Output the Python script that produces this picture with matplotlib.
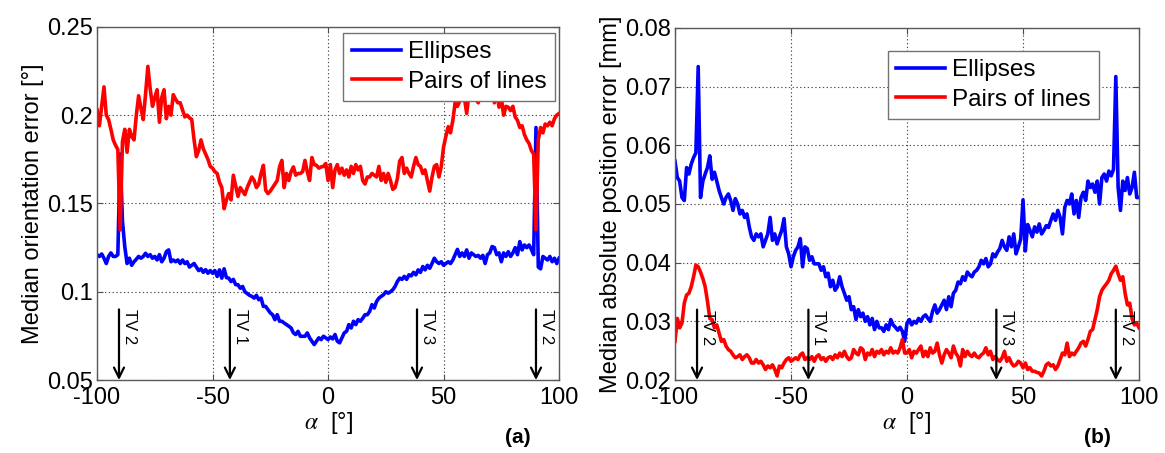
import numpy as np
import matplotlib
matplotlib.use('Agg')
import matplotlib.pyplot as plt

plt.rcParams['font.family'] = ['Liberation Sans', 'DejaVu Sans']
plt.rcParams['mathtext.fontset'] = 'stix'
plt.rcParams['axes.unicode_minus'] = False

# angle grid (degrees), one sample per degree
alpha = np.arange(-100, 101)

# (a) median orientation error [deg]
orient_ellipses = [
    .121, .120, .1214, .119, .116, .120, .122, .120, .120, .121,
    .178, .140, .1256, .116, .119, .115, .117, .1184, .120, .119,
    .120, .1218, .120, .121, .119, .120, .118, .121, .117, .119,
    .1227, .1237, .117, .118, .117, .118, .116, .118, .116, .117,
    .114, .115, .116, .114, .112, .113, .111, .1125, .1105, .112,
    .1105, .112, .1087, .1124, .1077, .113, .108, .1077, .1058, .107,
    .104, .104, .102, .103, .100, .099, .098, .0974, .0964, .098,
    .0955, .0964, .0917, .0917, .0898, .088, .087, .0842, .087, .0833,
    .0833, .0823, .0814, .0805, .0795, .0767, .0758, .0776, .0748, .0748,
    .0748, .0767, .0739, .072, .0701, .072, .0739, .0729, .0748, .0739,
    .0729, .0744, .0733, .0758, .072, .0711, .0739, .0767, .0776, .0814,
    .0795, .0833, .0814, .0842, .0833, .085, .087, .087, .0889, .0927,
    .0908, .0945, .0964, .0974, .0983, .100, .0992, .100, .1011, .103,
    .1058, .1077, .107, .1087, .107, .1096, .109, .111, .1096, .1124,
    .111, .1143, .1124, .115, .1133, .116, .119, .117, .116, .117,
    .115, .116, .117, .116, .118, .121, .124, .120, .122, .120,
    .1237, .119, .122, .121, .120, .1206, .119, .1206, .116, .121,
    .122, .1256, .125, .121, .122, .117, .122, .120, .1227, .120,
    .122, .125, .121, .1284, .1237, .1265, .125, .1265, .124, .121,
    .193, .114, .113, .120, .119, .118, .120, .117, .119, .116, .119,
]
orient_lines = [
    .203, .194, .205, .216, .200, .1975, .192, .186, .183, .1805,
    .135, .185, .192, .179, .192, .188, .186, .200, .211, .204,
    .1975, .212, .2276, .215, .205, .210, .2144, .196, .210, .2144,
    .198, .205, .200, .2116, .209, .207, .207, .203, .199, .200,
    .1985, .1975, .186, .1765, .180, .186, .181, .178, .175, .171,
    .170, .168, .167, .162, .159, .147, .152, .1556, .152, .166,
    .160, .154, .159, .157, .155, .159, .162, .165, .163, .159,
    .161, .167, .1716, .1575, .1556, .157, .159, .161, .163, .1707,
    .1744, .159, .167, .163, .168, .1707, .166, .167, .167, .168,
    .1744, .168, .163, .176, .172, .1716, .170, .1707, .171, .1726,
    .163, .172, .159, .169, .172, .167, .170, .166, .169, .165,
    .171, .167, .172, .169, .171, .163, .161, .165, .165, .167,
    .166, .165, .171, .163, .167, .162, .167, .163, .158, .159,
    .164, .174, .176, .167, .170, .167, .165, .171, .176, .172,
    .171, .167, .169, .163, .157, .165, .171, .172, .165, .171,
    .182, .188, .1935, .190, .197, .207, .205, .208, .212, .210,
    .201, .212, .210, .214, .209, .207, .212, .215, .211, .216,
    .213, .217, .207, .214, .2045, .210, .200, .205, .2045, .2026,
    .205, .199, .197, .193, .194, .189, .186, .184, .180, .178,
    .135, .186, .193, .190, .195, .194, .196, .194, .198, .200, .201,
]

# (b) median absolute position error [mm]
pos_ellipses = [
    .0573, .0545, .0539, .0511, .0506, .0562, .0551, .0568, .0579, .0587,
    .0734, .0511, .0539, .0551, .0562, .0582, .0542, .0554, .0539, .0523,
    .0511, .050, .0511, .0517, .0506, .0489, .0509, .050, .0483, .0489,
    .0477, .0483, .0461, .0444, .0438, .0449, .0444, .0449, .0427, .0438,
    .0449, .0477, .0438, .0449, .0432, .0444, .0455, .0475, .0427, .0415,
    .0393, .041, .0421, .0427, .0441, .0393, .0427, .0424, .0404, .041,
    .0398, .0398, .0398, .0387, .0393, .0376, .0382, .0359, .037, .0353,
    .0359, .0376, .0359, .0348, .0336, .0342, .032, .0325, .0303, .032,
    .0308, .0314, .030, .0308, .0294, .0305, .0286, .030, .0289, .0289,
    .0283, .0294, .0286, .0303, .0294, .029, .0285, .029, .0283, .0266,
    .0297, .0303, .0294, .030, .0297, .0305, .030, .0308, .0311, .0305,
    .030, .0317, .0328, .0314, .032, .0328, .0336, .032, .0342, .0325,
    .0348, .0353, .0367, .0364, .0376, .037, .0384, .0379, .0376, .0384,
    .0387, .0393, .0404, .0398, .0407, .0393, .0398, .0415, .041, .0418,
    .0424, .0438, .0427, .0421, .0444, .0427, .0449, .0415, .0427, .044,
    .0507, .042, .0465, .0455, .0444, .0461, .0452, .0466, .0449, .0455,
    .0463, .046, .0472, .0483, .0472, .0489, .0477, .0449, .0494, .0506,
    .050, .0517, .0483, .0506, .0477, .0511, .052, .0506, .0539, .0528,
    .0534, .052, .0539, .050, .0545, .0551, .0539, .0556, .0548, .0559,
    .0717, .0528, .0489, .0539, .0523, .0545, .0517, .0528, .0554, .0511, .0511,
]
pos_lines = [
    .0266, .0305, .0289, .0297, .0331, .0345, .0348, .0359, .0376, .0396,
    .0393, .0384, .0373, .0359, .0334, .0305, .0303, .0289, .0294, .028,
    .0266, .0269, .0258, .0252, .0249, .0243, .0238, .024, .0243, .0235,
    .024, .0243, .0238, .0229, .0229, .0235, .0229, .0232, .0226, .0218,
    .0224, .0221, .0226, .0218, .0207, .0224, .0221, .0229, .0235, .0238,
    .0232, .0235, .0238, .0235, .0243, .0246, .0235, .0238, .0235, .024,
    .0232, .024, .0243, .0235, .0238, .0232, .0238, .024, .0235, .0243,
    .0238, .0246, .024, .0249, .024, .0235, .0238, .0252, .0246, .0243,
    .0255, .0252, .0235, .0246, .0243, .0252, .024, .0249, .0246, .0252,
    .0243, .0249, .0246, .0255, .0246, .0249, .0246, .0255, .0269, .0246,
    .0246, .0252, .0238, .0249, .0246, .0252, .0258, .024, .0249, .024,
    .0255, .0246, .0249, .0263, .0243, .0229, .0243, .0252, .0246, .0238,
    .0258, .0246, .024, .0224, .0252, .024, .0249, .0243, .024, .0246,
    .024, .0238, .0243, .0246, .0255, .0243, .0249, .0235, .024, .0235,
    .0232, .0238, .0249, .0232, .0238, .0229, .0224, .0226, .0232, .0229,
    .0221, .0229, .0218, .0221, .0215, .0215, .0213, .0212, .0207, .0215,
    .0226, .0229, .0224, .0226, .0218, .0224, .0235, .0246, .0243, .0263,
    .024, .0246, .0243, .0249, .0255, .0263, .0266, .0258, .0269, .0283,
    .0286, .0303, .032, .0342, .0353, .0359, .0364, .037, .0381, .0387,
    .0394, .0381, .037, .0376, .0348, .0328, .0331, .0305, .0294, .0297, .0289,
]

# test view positions marked with arrows
tv_labels = ['TV 2', 'TV 1', 'TV 3', 'TV 2']
tv_alpha = [-90.5, -42.5, 38.5, 90]

legend_names = ['Ellipses', 'Pairs of lines']

fig = plt.figure(figsize=(11.65, 4.53), dpi=100)
ax1 = fig.add_axes([0.0833, 0.161, 0.3966, 0.7797])
ax2 = fig.add_axes([0.5794, 0.161, 0.3983, 0.7775])

panels = [
    (ax1, orient_ellipses, orient_lines, (0.05, 0.25), [0.05, 0.1, 0.15, 0.2, 0.25],
     'Median orientation error [°]', 0.09, (0.991, 0.983), '(a)', 0.4446),
    (ax2, pos_ellipses, pos_lines, (0.02, 0.08), [0.02, 0.03, 0.04, 0.05, 0.06, 0.07, 0.08],
     'Median absolute position error [mm]', 0.032, (0.914, 0.935), '(b)', 0.9416),
]

for ax, ell, lin, ylim, yticks, ylab, tv_top, leg_pos, tag, tag_x in panels:
    ax.plot(alpha, ell, color=(0, 0, 1), lw=2.6, label=legend_names[0])
    ax.plot(alpha, lin, color=(1, 0, 0), lw=2.6, label=legend_names[1])
    ax.set_xlim(-100, 100)
    ax.set_ylim(*ylim)
    ax.set_xticks([-100, -50, 0, 50, 100])
    ax.set_yticks(yticks)
    ax.set_yticklabels(['%g' % t for t in yticks])
    ax.grid(True, color='0.3', linestyle=(0, (1.2, 2.2)), lw=0.8)
    ax.tick_params(direction='in', length=4, top=True, right=True,
                   labelsize=17, pad=3, color='0.3')
    ax.tick_params(axis='x', pad=5)
    for s in ax.spines.values():
        s.set_color('0.35')
        s.set_linewidth(1.0)
    ax.set_ylabel(ylab, fontsize=17, labelpad=2)
    ax.set_xlabel(r'$\alpha$  [°]', fontsize=17, labelpad=1)

    for name, a in zip(tv_labels, tv_alpha):
        ax.annotate('', xy=(a, ylim[0]), xytext=(a, tv_top),
                    arrowprops=dict(arrowstyle='->', lw=1.6, color='k',
                                    mutation_scale=18, shrinkA=0, shrinkB=0))
        ax.annotate(name, xy=(a, tv_top), xytext=(2, 0), textcoords='offset points',
                    rotation=270, ha='left', va='top', fontsize=12)

    leg = ax.legend(loc='upper right', bbox_to_anchor=leg_pos, fontsize=17.5,
                    fancybox=False, framealpha=1, edgecolor='0.45',
                    handlelength=2.0, handletextpad=0.3, borderpad=0.35,
                    labelspacing=0.3, borderaxespad=0)
    leg.get_frame().set_linewidth(1.0)

    fig.text(tag_x, 0.035, tag, fontsize=15, fontweight='bold', ha='center', va='center')

fig.savefig('out.png', dpi=100)
